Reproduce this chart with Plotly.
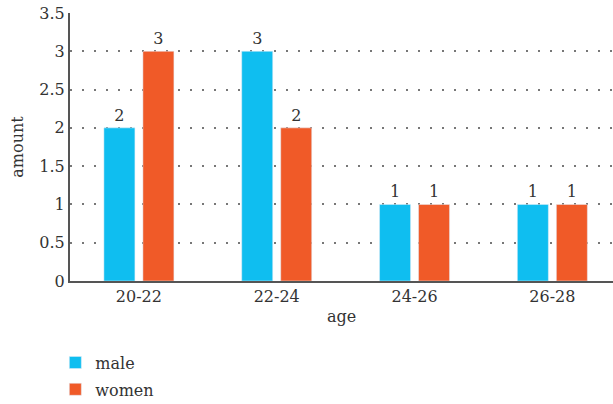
import plotly.graph_objects as go

categories = ["20-22", "22-24", "24-26", "26-28"]
male = [2, 3, 1, 1]
women = [3, 2, 1, 1]
y_ticks = [0, 0.5, 1, 1.5, 2, 2.5, 3, 3.5]
y_tick_labels = ["0", "0.5", "1", "1.5", "2", "2.5", "3", "3.5"]

FONT = "DejaVu Serif"
TXT = "#333333"
FS = 16

fig = go.Figure()
fig.add_trace(go.Bar(
    x=categories, y=male, name="male", marker_color="#0FBEF0",
    width=0.225, offset=-0.254,
    text=male, textposition="outside", cliponaxis=False,
    textfont=dict(family=FONT, size=FS, color=TXT),
    legendgroup="a",
))
fig.add_trace(go.Bar(
    x=categories, y=women, name="women", marker_color="#F05A28",
    width=0.225, offset=0.029,
    text=women, textposition="outside", cliponaxis=False,
    textfont=dict(family=FONT, size=FS, color=TXT),
    legendgroup="b",
))

fig.update_layout(
    width=613, height=404,
    margin=dict(l=70, r=0, t=13, b=123, autoexpand=False),
    paper_bgcolor="white", plot_bgcolor="white",
    font=dict(family=FONT, size=FS, color=TXT),
    barmode="group",
    showlegend=True,
    legend=dict(
        x=-0.027, xanchor="left", y=-0.241, yanchor="top",
        orientation="v", font=dict(family=FONT, size=FS, color=TXT),
        tracegroupgap=3, itemwidth=30,
    ),
    xaxis=dict(
        type="category", range=[-0.5, 3.44], automargin=False,
        showline=True, linecolor="#555555", linewidth=2,
        showgrid=False, ticks="",
        title=dict(text="age", font=dict(family=FONT, size=FS, color=TXT), standoff=6),
        tickfont=dict(family=FONT, size=FS, color=TXT),
    ),
    yaxis=dict(
        range=[0, 3.5], tickvals=y_ticks, ticktext=y_tick_labels, automargin=False,
        showline=True, linecolor="#555555", linewidth=2,
        showgrid=True, gridcolor="#777777", griddash="1.5px,10.5px", gridwidth=1.5,
        zeroline=False, ticks="",
        title=dict(text="amount", font=dict(family=FONT, size=FS, color=TXT), standoff=12),
        tickfont=dict(family=FONT, size=FS, color=TXT),
    ),
)

fig.write_html("out.html", config={"displayModeBar": False},
               post_script="document.body.style.margin='0px';")
